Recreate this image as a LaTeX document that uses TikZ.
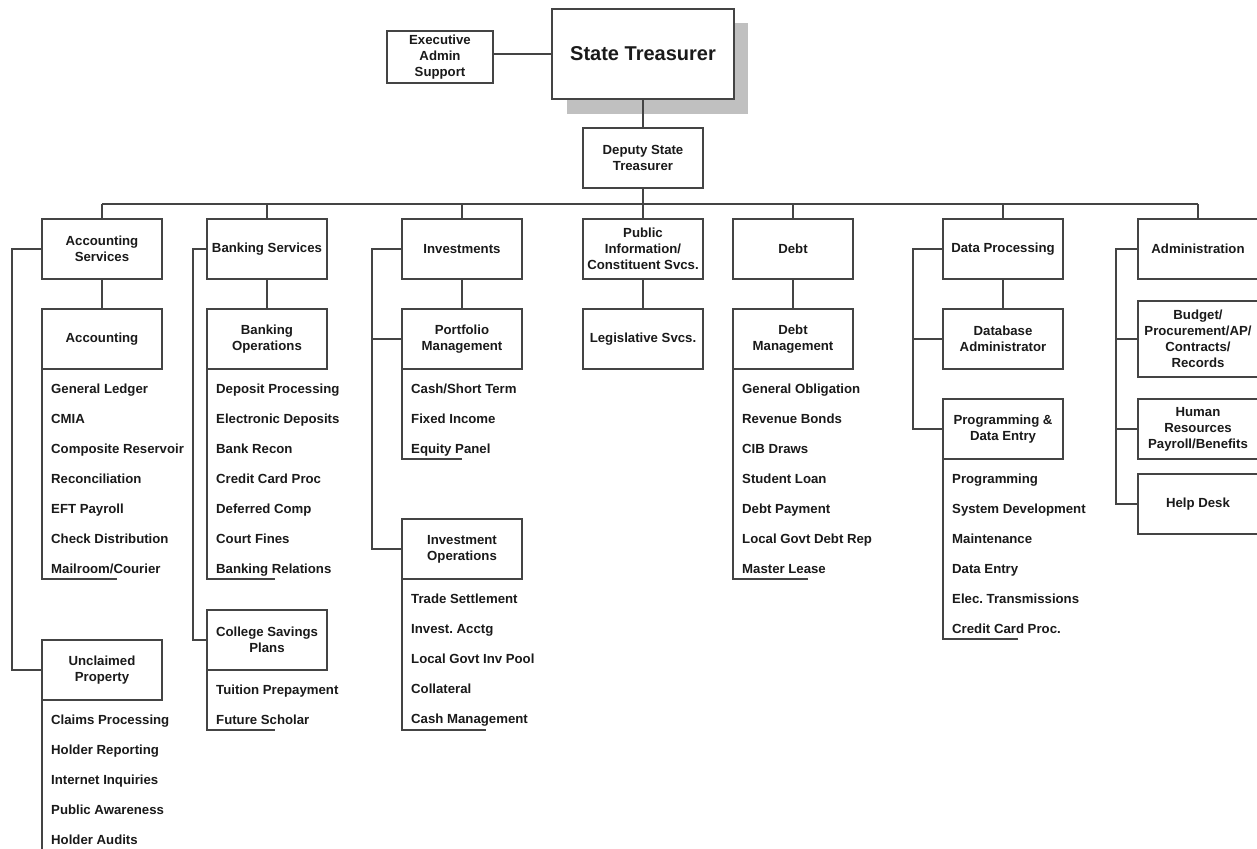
\documentclass[tikz,border=0pt]{standalone}
\usepackage{fontspec}
\setmainfont{Liberation Sans}
\usetikzlibrary{calc}
\frenchspacing
\definecolor{linec}{HTML}{444444}
\definecolor{txt}{HTML}{1A1A1A}
\definecolor{shadowc}{HTML}{C0C0C0}
\newcommand\mkitems[2]{\foreach \t [count=\i] in {#2} \node[item] (#1-\i) at ([xshift=9pt, yshift={-(24+30*(\i-1))*1pt}]#1.south west) {\t};}
\begin{document}
\begin{tikzpicture}[x=1pt,y=-1pt,
  box/.style={draw=linec, line width=1.4pt, fill=white, inner sep=0pt, outer sep=0pt, align=center, text=txt, font=\bfseries\fontsize{13.2}{16}\selectfont, minimum width=120pt, minimum height=60pt},
  item/.style={inner sep=0pt, anchor=base west, text=txt, font=\bfseries\fontsize{13.2}{16}\selectfont},
  conn/.style={draw=linec, line width=1.4pt}]
\useasboundingbox[fill=white] (0,0) rectangle (1257,848);
% top
\fill[shadowc] (567,23) rectangle (748,114);
\node[box, minimum width=182pt, minimum height=90pt, font=\bfseries\fontsize{20}{24}\selectfont] (st) at (643,54) {State Treasurer};
\node[box, minimum width=106pt, minimum height=52pt] (exec) at (440,57) {Executive\\Admin\\Support};
\node[box, minimum width=120pt, minimum height=60pt] (dep) at (643,158) {Deputy State\\Treasurer};
% level 1
\node[box] (acs) at (102,249) {Accounting\\Services};
\node[box] (bks) at (267,249) {Banking Services};
\node[box] (inv) at (462,249) {Investments};
\node[box] (pub) at (643,249) {Public\\Information/\\Constituent Svcs.};
\node[box] (debt) at (793,249) {Debt};
\node[box] (dp) at (1003,249) {Data Processing};
\node[box] (adm) at (1198,249) {Administration};
% level 2
\node[box] (acc) at (102,339) {Accounting};
\node[box] (bko) at (267,339) {Banking\\Operations};
\node[box] (pm) at (462,339) {Portfolio\\Management};
\node[box] (leg) at (643,339) {Legislative Svcs.};
\node[box] (dm) at (793,339) {Debt\\Management};
\node[box] (dba) at (1003,339) {Database\\Administrator};
\node[box, minimum height=76pt] (budget) at (1198,339) {Budget/\\Procurement/AP/\\Contracts/\\Records};
\node[box] (hr) at (1198,429) {Human\\Resources\\Payroll/Benefits};
\node[box] (prog) at (1003,429) {Programming \&\\Data Entry};
\node[box] (help) at (1198,504) {Help Desk};
\node[box] (io) at (462,549) {Investment\\Operations};
\node[box] (csp) at (267,640) {College Savings\\Plans};
\node[box] (unc) at (102,670) {Unclaimed\\Property};
% connectors
\coordinate (busL) at (102,204);
\coordinate (busR) at (1198,204);
\draw[conn] (busL) -- (busR);
\draw[conn] (st.west) -- (st.west -| exec.east);
\draw[conn] (st.south) -- (dep.north);
\draw[conn] (dep.south) -- (dep.south |- busL);
\foreach \n in {acs,bks,inv,pub,debt,dp,adm} \draw[conn] (\n.north) -- (\n.north |- busL);
\draw[conn] (acs.south) -- (acc.north);
\draw[conn] (bks.south) -- (bko.north);
\draw[conn] (inv.south) -- (pm.north);
\draw[conn] (pub.south) -- (leg.north);
\draw[conn] (debt.south) -- (dm.north);
\draw[conn] (dp.south) -- (dba.north);
% spines
\draw[conn] (acs.west) -- ++(-30,0) |- (unc.west);
\draw[conn] (bks.west) -- ++(-14,0) |- (csp.west);
\draw[conn] (inv.west) -- ++(-30,0) |- (io.west);
\draw[conn] (pm.west) -- ++(-30,0);
\draw[conn] (dp.west) -- ++(-30,0) |- (prog.west);
\draw[conn] (dba.west) -- ++(-30,0);
\draw[conn] (adm.west) -- ++(-22,0) |- (help.west);
\draw[conn] (budget.west) -- ++(-22,0);
\draw[conn] (hr.west) -- ++(-22,0);
% brackets
\draw[conn] (acc.south west) |- ++(75,210);
\draw[conn] (bko.south west) |- ++(68,210);
\draw[conn] (pm.south west) |- ++(60,90);
\draw[conn] (io.south west) |- ++(84,151);
\draw[conn] (dm.south west) |- ++(75,210);
\draw[conn] (prog.south west) |- ++(75,180);
\draw[conn] (csp.south west) |- ++(68,60);
\draw[conn] (unc.south west) -- ++(0,160);
% lists
\mkitems{acc}{General Ledger,CMIA,Composite Reservoir,Reconciliation,EFT Payroll,Check Distribution,Mailroom/Courier}
\mkitems{bko}{Deposit Processing,Electronic Deposits,Bank Recon,Credit Card Proc,Deferred Comp,Court Fines,Banking Relations}
\mkitems{pm}{Cash/Short Term,Fixed Income,Equity Panel}
\mkitems{io}{Trade Settlement,Invest. Acctg,Local Govt Inv Pool,Collateral,Cash Management}
\mkitems{dm}{General Obligation,Revenue Bonds,CIB Draws,Student Loan,Debt Payment,Local Govt Debt Rep,Master Lease}
\mkitems{prog}{Programming,System Development,Maintenance,Data Entry,Elec. Transmissions,Credit Card Proc.}
\mkitems{csp}{Tuition Prepayment,Future Scholar}
\mkitems{unc}{Claims Processing,Holder Reporting,Internet Inquiries,Public Awareness,Holder Audits}
\end{tikzpicture}
\end{document}
